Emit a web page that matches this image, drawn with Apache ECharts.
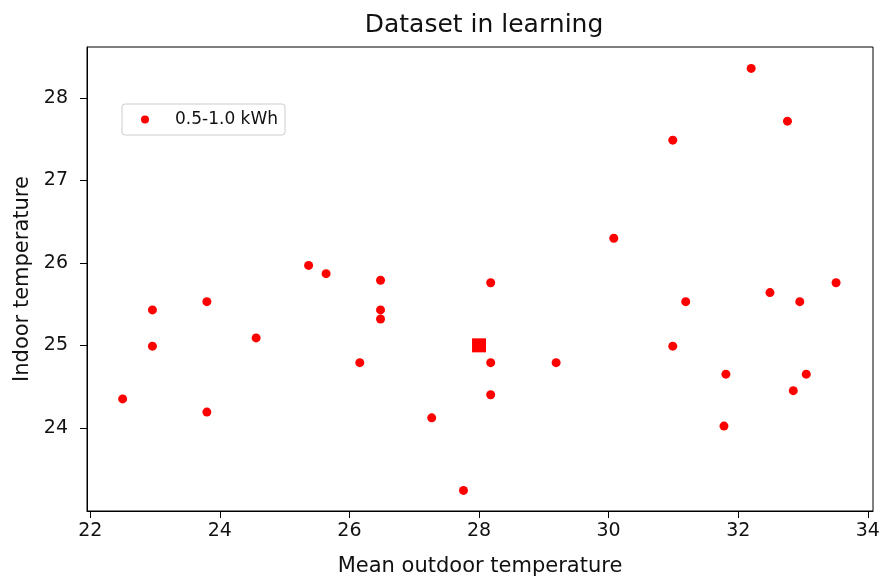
<!DOCTYPE html>
<html>
<head>
<meta charset="utf-8">
<script src="https://cdn.jsdelivr.net/npm/echarts@6/dist/echarts.min.js"></script>
<style>html,body{margin:0;padding:0;background:#fff;}#c{width:890px;height:577px;}</style>
</head>
<body>
<div id="c"></div>
<script>
const titleText = 'Dataset in learning';
const xName = 'Mean outdoor temperature';
const yName = 'Indoor temperature';
const legendName = '0.5-1.0 kWh';
const xTicks = [22, 24, 26, 28, 30, 32, 34];
const yTicks = [24, 25, 26, 27, 28];
const outdoorTemp = [22.50, 22.96, 22.96, 23.80, 23.80, 24.56, 25.37, 25.64, 26.48, 26.48, 26.48, 26.16, 27.27, 27.76,
  28.18, 28.18, 28.18, 29.19, 30.08, 30.99, 30.99, 31.19, 31.81, 31.78, 32.20, 32.76, 32.49, 32.95, 33.51, 33.05, 32.85];
const indoorTemp = [24.35, 25.43, 24.99, 25.53, 24.19, 25.09, 25.97, 25.87, 25.79, 25.43, 25.32, 24.79, 24.12, 23.24,
  25.76, 24.79, 24.40, 24.79, 26.30, 27.49, 24.99, 25.53, 24.65, 24.02, 28.36, 27.72, 25.64, 25.53, 25.76, 24.65, 24.45];
const targetPoint = [28.0, 25.0];

const FONT = 'DejaVu Sans';
const TXT = '#111';
const chart = echarts.init(document.getElementById('c'), null, {renderer: 'canvas'});
chart.setOption({
  animation: false,
  backgroundColor: '#fff',
  textStyle: {fontFamily: FONT},
  title: {
    text: titleText, left: 479, top: 8, textAlign: 'center',
    textStyle: {fontFamily: FONT, fontSize: 25, fontWeight: 'normal', color: TXT}
  },
  grid: {left: 87, right: 17, top: 47, bottom: 66, show: true, borderColor: '#000', borderWidth: 1,
    backgroundColor: '#fff', containLabel: false, outerBoundsMode: 'none'},
  legend: {
    left: 122, top: 104, orient: 'vertical',
    data: [legendName],
    icon: 'circle', itemWidth: 8, itemHeight: 8,
    padding: [7, 7, 7, 19],
    borderColor: '#ccc', borderWidth: 1, borderRadius: 3,
    textStyle: {fontFamily: FONT, fontSize: 17, color: TXT, padding: [0, 0, 0, 21]}
  },
  xAxis: {
    type: 'value', min: 21.95, max: 34.08,
    name: xName, nameLocation: 'middle', nameGap: 45,
    nameTextStyle: {fontFamily: FONT, fontSize: 21, color: TXT},
    axisLine: {show: true, lineStyle: {color: '#000', width: 1}},
    axisTick: {show: true, inside: false, length: 7, customValues: xTicks, lineStyle: {color: '#000'}},
    axisLabel: {customValues: xTicks, fontFamily: FONT, fontSize: 19, color: TXT, margin: 11},
    splitLine: {show: false}
  },
  yAxis: {
    type: 'value', min: 22.99, max: 28.62,
    name: yName, nameLocation: 'middle', nameGap: 54, nameRotate: 90,
    nameTextStyle: {fontFamily: FONT, fontSize: 21, color: TXT},
    axisLine: {show: true, lineStyle: {color: '#000', width: 1}},
    axisTick: {show: true, inside: false, length: 7, customValues: yTicks, lineStyle: {color: '#000'}},
    axisLabel: {customValues: yTicks, fontFamily: FONT, fontSize: 19, color: TXT, margin: 19},
    splitLine: {show: false}
  },
  series: [
    {
      name: legendName, type: 'scatter', symbol: 'circle', symbolSize: 9,
      itemStyle: {color: '#ff0000', opacity: 1},
      data: outdoorTemp.map((x, i) => [x, indoorTemp[i]])
    },
    {
      name: 'target', type: 'scatter', symbol: 'rect', symbolSize: 14,
      itemStyle: {color: '#ff0000', opacity: 1},
      data: [targetPoint]
    }
  ]
});
</script>
</body>
</html>
